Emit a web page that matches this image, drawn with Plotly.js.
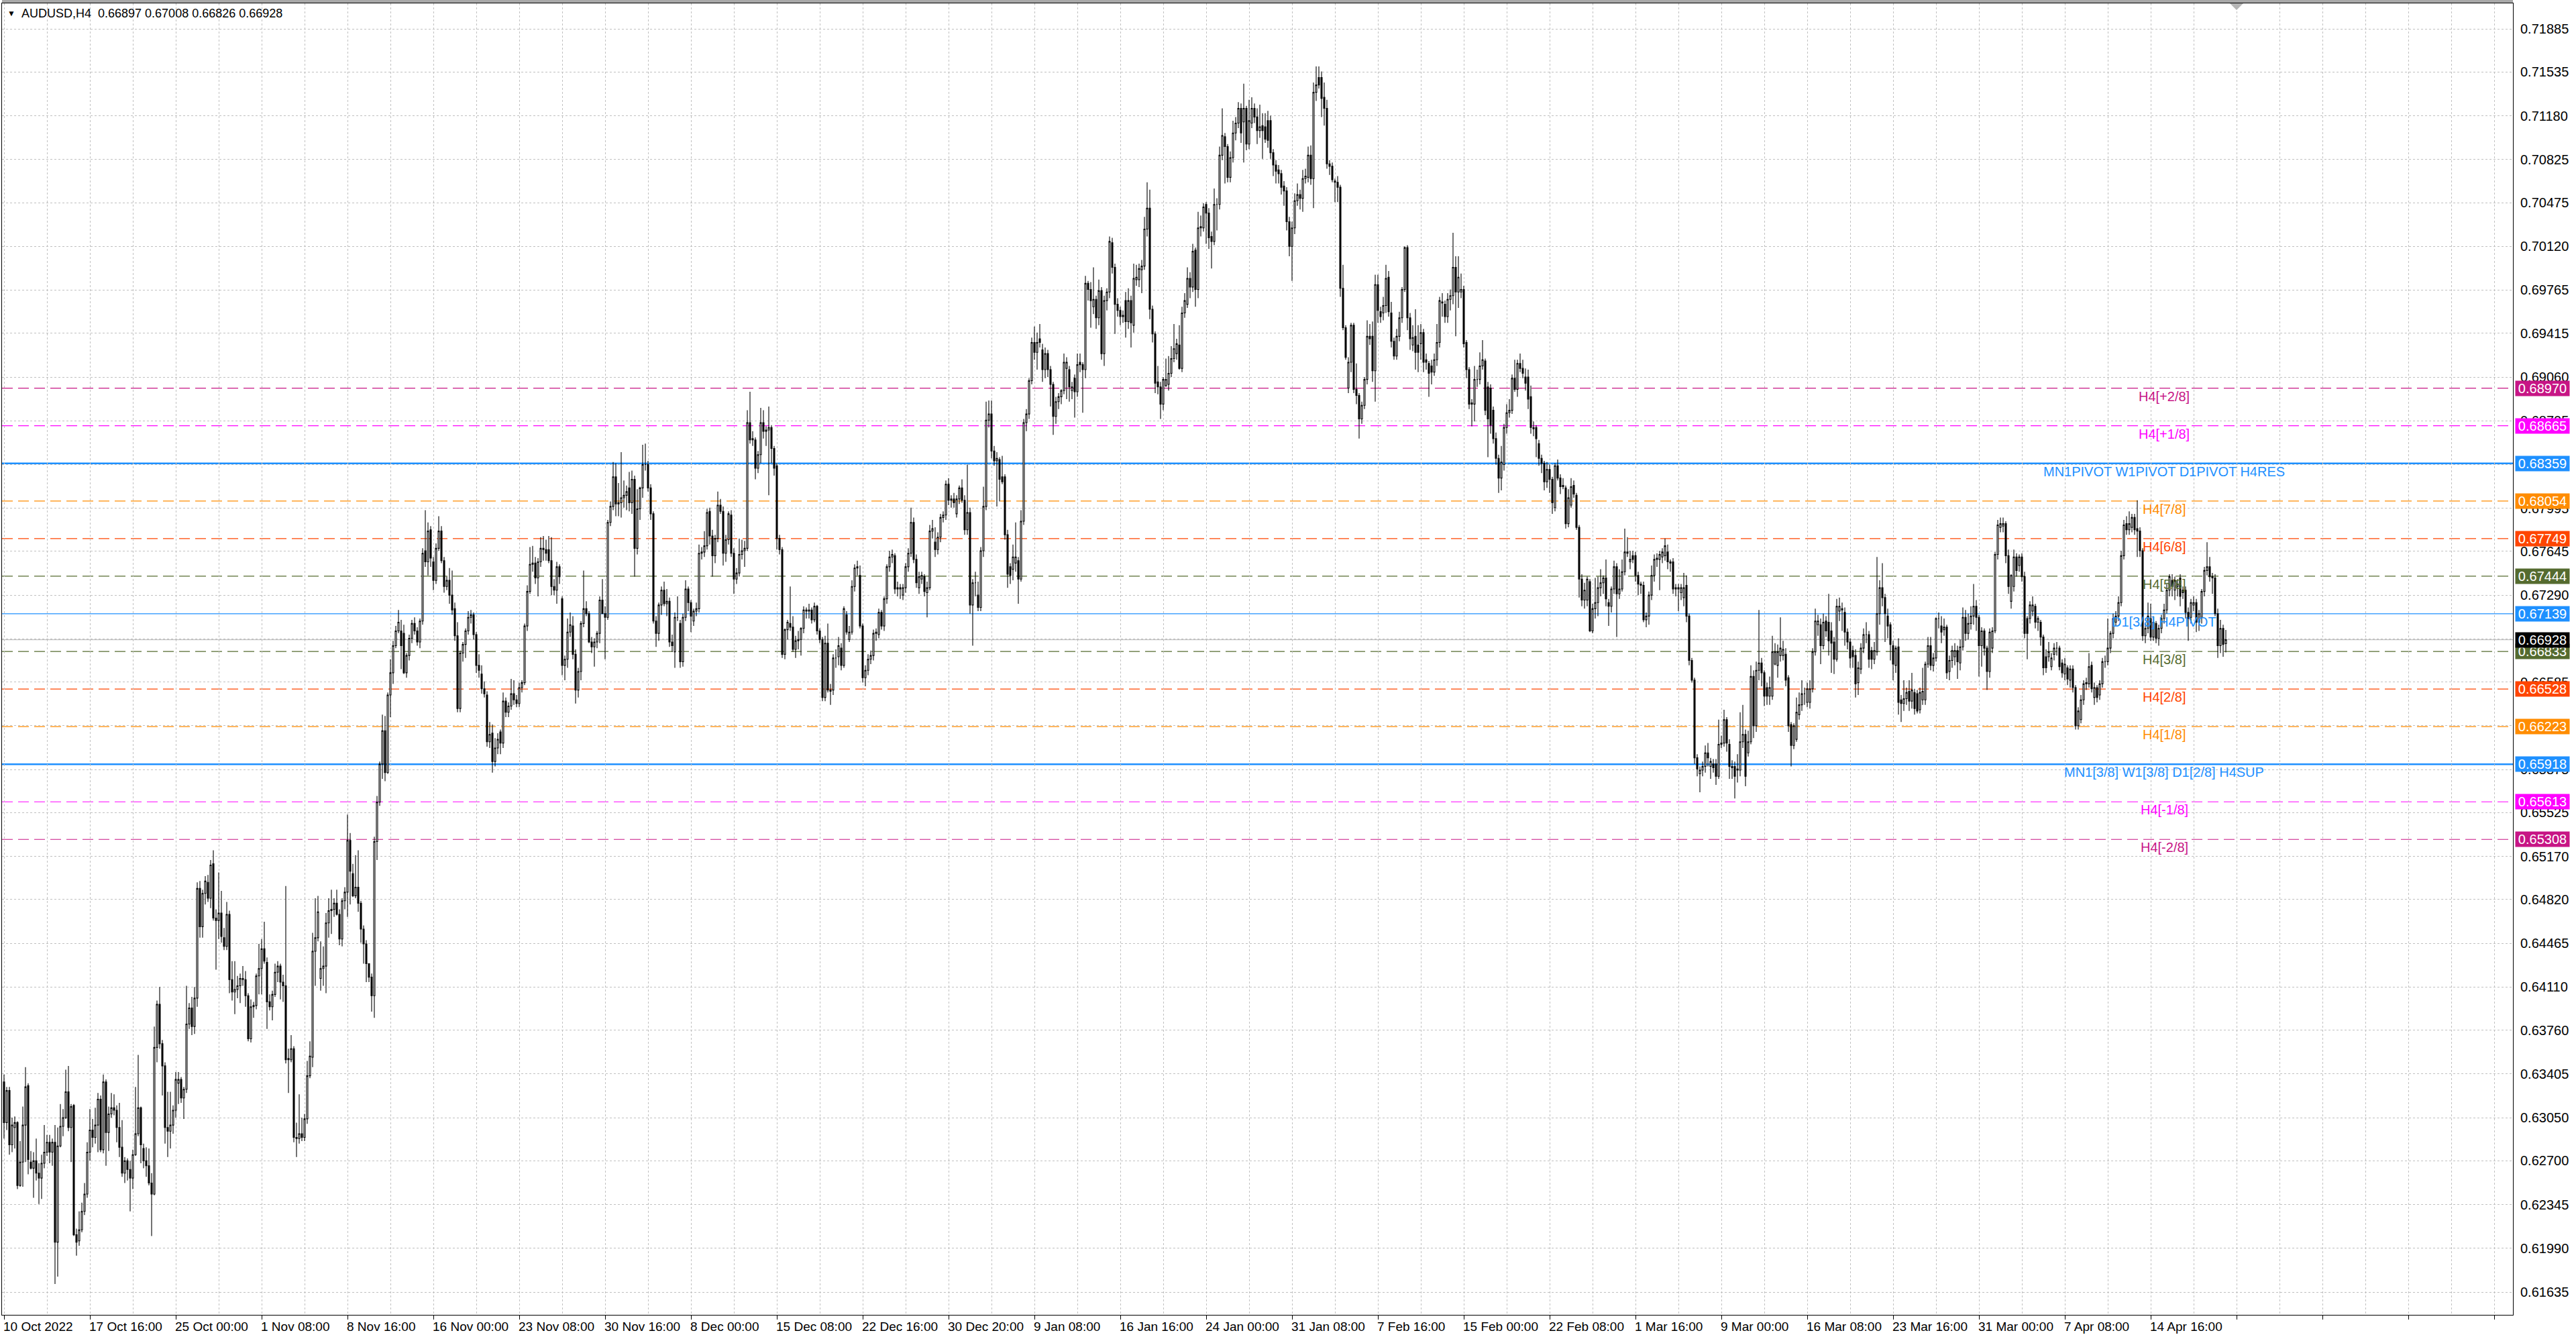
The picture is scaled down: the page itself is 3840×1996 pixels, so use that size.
<!DOCTYPE html>
<html>
<head>
<meta charset="utf-8">
<script src="https://cdn.plot.ly/plotly-3.0.1.min.js"></script>
<style>
    html, body { margin: 0; padding: 0; background: #ffffff; }
    #chart { width: 3840px; height: 1996px; }
</style>
</head>
<body>
<div id="chart"></div>
<script>
// AUDUSD H4 candles, values in pips above BASE (price = BASE + v / 10000)
const BASE = 0.6;

const opens = [
    334,301,327,283,297,301,250,269,299,331,269,264,270,260,256,268,277,285,277,285,
    204,282,298,305,326,297,315,210,205,214,229,243,277,295,289,299,320,279,334,293,
    308,313,311,297,281,260,270,263,256,275,292,313,280,270,266,252,243,362,397,365,
    347,297,294,299,311,333,336,321,328,381,394,379,402,491,460,487,496,483,511,467,
    465,471,451,444,470,417,407,409,412,418,417,404,369,395,396,420,426,442,431,399,
    395,405,423,428,415,412,353,352,361,289,288,292,289,304,339,354,440,451,418,426,
    428,463,473,474,479,470,450,481,488,530,503,485,492,479,458,446,430,419,404,529,
    561,592,619,585,648,666,688,700,700,698,666,680,694,706,700,691,708,765,756,782,
    756,741,767,781,757,736,741,729,718,696,637,682,689,700,711,713,697,672,665,653,
    648,610,617,594,605,618,609,643,634,639,649,644,641,654,658,704,732,754,755,743,
    756,767,766,766,757,736,733,752,726,672,677,699,704,681,652,667,706,718,714,691,
    687,691,698,725,714,711,788,801,825,803,804,808,810,816,804,823,767,799,816,835,
    835,816,795,708,698,721,733,722,724,691,683,711,706,675,711,734,723,708,716,718,
    763,764,769,797,777,761,775,802,797,763,774,794,763,742,747,762,765,767,869,855,
    855,832,843,869,862,863,865,848,834,775,766,681,701,706,703,685,692,693,702,717,
    716,717,709,720,700,693,646,690,652,652,678,679,686,672,713,693,699,736,751,745,
    704,662,668,677,680,698,697,715,704,726,752,760,761,734,735,729,735,752,763,788,
    758,735,742,744,731,735,781,772,766,776,792,794,819,806,807,795,807,816,806,782,
    796,721,739,729,719,765,801,871,876,846,838,839,825,825,778,752,750,755,757,742,
    789,869,876,903,934,926,937,928,912,925,912,900,874,886,890,895,913,912,895,905,
    894,918,916,912,982,977,963,969,954,976,925,968,975,1015,995,965,960,955,968,951,
    968,948,985,985,993,996,1026,1043,961,941,902,898,884,899,900,909,921,925,932,913,
    958,965,986,979,1009,977,1027,1027,1046,1039,1020,1016,1046,1046,1086,1101,1093,1068,1084,1104,
    1112,1124,1113,1124,1095,1112,1124,1117,1106,1110,1109,1114,1114,1088,1078,1074,1071,1061,1057,1032,
    1012,1027,1049,1054,1051,1067,1068,1086,1067,1137,1149,1149,1133,1124,1079,1077,1065,1064,1060,978,
    946,897,918,948,896,891,872,883,904,939,939,911,981,959,958,964,987,958,935,923,
    939,954,977,1011,954,932,939,932,933,942,920,917,915,910,920,934,967,965,955,969,
    972,995,975,975,977,934,912,885,884,904,904,915,919,898,897,879,856,840,824,835,
    865,877,879,905,896,917,913,906,906,890,865,865,852,840,836,821,831,823,800,834,
    824,817,816,787,802,818,810,784,742,725,725,740,700,718,723,735,739,743,723,720,
    734,752,730,734,748,763,756,761,761,745,738,737,709,712,729,745,758,758,760,761,
    764,755,756,734,735,731,727,737,712,676,660,597,584,587,590,601,590,592,592,582,
    608,609,628,608,589,590,587,587,610,616,601,610,663,623,668,674,666,654,647,647,
    673,672,680,680,681,662,624,607,612,632,640,649,642,642,653,683,705,705,688,708,
    707,700,691,677,716,717,715,699,691,684,680,658,669,686,697,697,684,677,683,714,
    735,727,712,705,688,672,687,644,641,645,651,643,650,649,636,644,644,673,688,672,
    678,710,704,701,703,667,676,679,684,674,687,711,698,706,712,720,711,688,700,686,
    667,686,700,762,784,785,787,761,724,736,760,753,760,744,710,710,716,720,707,707,
    695,679,679,671,681,686,686,674,665,670,660,669,654,623,628,644,657,657,672,646,
    654,648,657,675,675,686,698,707,712,723,761,787,782,784,792,783,781,765,696,702,
    710,695,706,694,702,710,717,733,741,733,736,743,733,733,715,711,721,723,707,711,
    732,749,752,744,743,714,688,702,689.7
];

const highs = [
    340,330,330,305,306,302,286,314,346,333,278,277,288,268,275,299,291,291,288,299,
    297,316,312,344,347,316,316,215,229,236,252,285,312,304,313,325,323,340,336,314,
    325,324,315,317,303,273,272,270,279,330,356,314,284,281,280,260,379,400,411,368,
    350,326,326,315,342,342,338,330,412,398,403,411,496,497,490,501,502,514,522,474,
    504,489,459,480,473,432,432,420,422,428,424,406,401,399,422,446,450,464,435,405,
    408,430,432,430,421,493,361,372,363,301,324,305,308,351,367,455,483,485,448,444,
    471,483,490,483,490,474,483,492,551,536,511,518,522,481,461,449,430,422,533,566,
    594,632,631,650,677,692,704,717,709,705,682,697,709,711,703,710,767,798,788,785,
    760,771,793,785,760,744,751,749,723,707,684,691,702,716,717,715,699,681,672,659,
    651,626,624,613,617,620,650,646,642,661,660,648,658,660,706,737,768,769,760,759,
    776,777,774,777,776,742,756,754,728,680,710,715,712,685,670,708,749,724,716,695,
    694,700,728,742,720,790,805,837,836,820,845,822,818,829,830,826,815,817,851,852,
    838,819,797,712,723,736,740,734,727,697,715,728,709,714,741,736,725,718,723,770,
    768,781,799,800,782,778,813,807,801,778,797,798,767,751,775,774,773,879,894,862,
    857,846,881,879,866,882,867,850,836,778,768,702,709,736,712,696,700,703,720,719,
    722,719,723,721,702,695,696,706,657,681,685,695,690,720,716,704,741,754,757,753,
    706,672,681,684,701,702,718,717,728,754,765,766,763,740,738,738,755,767,800,792,
    762,748,748,746,740,786,790,784,780,795,797,822,824,810,812,810,818,823,810,835,
    800,742,748,740,768,817,886,887,887,850,845,841,842,827,782,755,770,788,760,798,
    872,880,905,938,947,942,949,933,930,928,915,902,890,893,896,925,922,915,902,908,
    925,925,918,988,984,983,995,972,985,979,972,978,1020,1019,998,970,963,960,975,978,
    972,998,997,998,1001,1036,1064,1058,964,943,915,902,906,921,923,931,949,937,948,963,
    974,995,991,1014,1011,1040,1037,1047,1048,1043,1024,1059,1051,1093,1124,1104,1095,1089,1114,1117,
    1129,1128,1144,1126,1131,1133,1128,1124,1127,1120,1120,1122,1118,1091,1082,1078,1074,1065,1060,1036,
    1032,1055,1063,1058,1074,1075,1093,1094,1145,1158,1158,1154,1145,1131,1082,1080,1067,1069,1062,997,
    948,922,950,950,917,893,886,906,952,949,951,989,989,963,971,997,992,967,938,945,
    959,979,1012,1013,958,948,961,948,949,945,925,919,920,925,949,971,974,968,974,977,
    1023,1004,1004,990,980,936,914,888,915,912,926,936,921,902,900,882,861,843,850,868,
    884,888,908,920,920,925,920,913,912,899,870,867,855,843,838,837,835,825,836,839,
    827,824,818,815,824,822,812,786,746,739,744,742,722,743,744,750,745,758,726,736,
    757,755,750,758,783,776,765,765,764,748,740,740,715,732,753,762,763,765,767,775,
    770,758,759,738,738,738,747,745,714,678,662,600,590,594,607,609,597,596,596,628,
    615,636,630,612,595,594,600,634,640,620,619,672,668,675,717,678,668,658,663,696,
    690,689,711,692,686,664,626,625,646,650,660,654,658,660,686,718,713,710,714,712,
    730,707,695,726,727,723,719,702,694,688,685,675,690,702,707,700,687,691,760,741,
    755,730,718,707,692,688,694,648,660,654,660,666,653,652,654,670,675,695,695,682,
    711,715,712,710,705,680,688,690,688,693,719,717,714,720,738,725,713,703,702,688,
    702,703,764,790,792,792,789,766,746,766,763,762,763,748,712,724,728,722,712,709,
    697,685,691,682,690,691,688,677,678,672,672,672,656,638,648,660,662,682,675,658,
    656,660,678,680,710,700,714,716,728,765,790,793,797,795,795,806,784,767,706,723,
    722,712,708,705,713,722,738,746,746,744,742,746,736,736,719,726,728,726,717,734,
    752,772,760,747,746,718,709,705,700.8
];

const lows = [
    288,295,275,277,280,247,249,249,269,259,263,240,254,235,239,264,274,268,266,170,
    176,281,290,304,294,269,209,193,201,212,226,240,270,281,284,277,277,276,266,278,
    305,307,285,273,257,252,254,229,247,274,290,268,264,257,250,209,242,350,361,323,
    284,273,280,292,305,316,317,304,325,377,372,373,395,451,451,478,480,475,465,425,
    450,447,441,441,406,400,389,402,398,412,395,367,366,386,393,405,405,430,377,392,
    384,403,415,401,399,349,325,350,285,273,284,286,286,300,337,346,412,448,408,412,
    406,451,454,468,469,445,444,474,468,478,484,483,472,447,430,415,415,391,386,514,
    558,580,578,584,630,657,686,698,669,665,662,676,690,697,688,686,705,752,745,752,
    733,738,765,755,731,733,722,713,692,634,634,675,678,697,706,693,666,662,649,646,
    606,605,585,590,600,600,605,630,630,636,640,638,638,650,656,700,730,748,738,728,
    752,757,757,755,729,729,722,738,664,660,670,695,677,641,646,660,703,712,690,682,
    671,686,690,714,677,709,785,798,793,793,792,800,798,797,795,744,762,790,808,830,
    813,790,706,687,692,713,720,712,687,683,670,708,670,671,708,716,699,704,712,715,
    758,760,766,770,744,755,772,795,753,756,770,760,730,738,744,758,752,765,852,850,
    823,828,836,856,850,810,836,826,766,762,678,677,693,700,683,678,685,680,698,710,
    710,706,707,697,690,643,643,650,640,648,670,672,668,670,697,691,697,732,745,702,
    658,655,664,673,676,692,694,701,700,722,748,755,730,728,726,725,731,748,760,755,
    735,730,738,728,711,733,775,760,762,772,788,790,802,800,800,792,803,804,778,778,
    714,688,728,716,716,760,798,865,840,834,801,805,819,774,735,738,741,748,722,740,
    786,862,872,900,920,912,930,902,905,906,882,859,868,880,884,892,888,886,888,873,
    890,910,877,905,968,946,957,945,948,920,915,960,970,990,941,955,948,950,938,945,
    930,942,980,979,974,993,1020,953,934,893,892,872,879,898,895,906,918,920,912,910,
    954,962,970,975,963,970,1020,1024,1014,1010,994,1013,1025,1042,1082,1063,1064,1064,1080,1098,
    1108,1096,1080,1090,1091,1108,1112,1095,1100,1083,1096,1092,1083,1069,1063,1063,1054,1045,1025,1004,
    984,1022,1045,1042,1040,1063,1064,1062,1043,1130,1140,1117,1110,1075,1070,1064,1048,1048,971,944,
    920,893,910,893,884,856,868,880,900,932,902,886,950,950,952,958,955,930,920,920,
    935,950,975,944,928,927,912,910,920,910,912,890,900,907,915,930,955,950,950,960,
    965,939,962,970,930,905,880,866,870,898,900,912,875,841,860,852,835,812,814,830,
    860,873,876,894,890,910,905,895,880,860,858,841,834,828,814,816,812,795,797,822,
    811,815,783,784,800,808,782,727,720,718,720,699,698,710,712,728,730,720,704,715,
    730,695,726,732,745,760,750,755,740,729,730,707,703,705,725,740,752,733,755,757,
    750,748,730,728,716,725,720,707,672,658,592,582,569,582,585,590,580,585,575,580,
    605,606,602,580,580,564,577,582,605,574,598,608,613,618,660,655,639,640,640,644,
    672,662,675,676,655,618,590,604,610,628,635,640,638,637,650,680,696,673,685,695,
    680,666,665,675,708,700,688,685,670,670,646,648,665,682,690,670,669,673,680,705,
    720,691,694,676,660,666,632,626,635,640,635,637,632,633,633,640,640,670,668,667,
    675,702,690,696,661,660,670,672,661,668,684,692,693,701,705,700,663,671,680,652,
    662,682,698,758,780,780,755,730,718,732,744,748,740,694,677,706,712,702,700,688,
    664,666,675,668,676,680,668,662,660,656,654,650,620,620,625,640,652,654,650,640,
    642,644,654,670,672,682,694,704,708,720,758,778,778,780,778,760,760,692,690,698,
    692,692,690,688,698,706,714,728,728,725,728,720,726,710,692,706,716,699,700,706,
    728,745,740,730,712,678,682,679,682.6
];

const closes = [
    301,327,283,299,301,250,269,299,330,271,264,270,260,256,268,277,285,277,285,204,
    282,298,305,326,297,314,210,204,214,229,243,277,295,289,299,320,279,334,293,308,
    313,311,297,281,260,270,263,256,275,292,313,283,270,266,252,243,362,397,365,347,
    297,294,299,311,336,336,321,328,381,394,379,402,491,460,487,497,483,510,467,465,
    471,452,444,470,417,407,409,412,418,417,404,369,395,396,420,426,442,432,399,395,
    405,423,428,415,412,352,352,361,289,288,292,289,304,339,355,440,451,472,426,428,
    463,473,474,479,470,450,481,488,530,505,485,492,479,458,446,430,419,404,529,561,
    592,619,585,648,666,688,700,707,688,666,680,694,706,700,691,708,763,756,781,759,
    741,767,781,757,736,741,729,717,696,637,682,689,700,711,713,697,672,668,653,649,
    610,616,594,605,612,609,643,634,639,649,644,641,654,658,704,732,754,755,743,756,
    767,766,763,757,736,733,752,744,672,677,699,705,681,652,667,706,718,714,691,687,
    691,698,725,714,711,788,801,825,803,804,808,810,813,804,823,767,799,816,835,835,
    816,795,708,698,721,733,722,724,691,688,711,711,675,711,734,723,712,716,718,763,
    764,769,796,777,761,775,802,797,763,774,795,763,742,747,762,765,767,869,855,856,
    832,843,869,862,863,865,848,832,775,766,681,701,707,703,685,692,693,702,717,716,
    717,709,720,700,693,646,690,652,651,678,678,688,672,718,699,699,736,751,752,704,
    662,668,677,680,698,699,715,704,726,752,760,762,734,735,734,735,752,763,788,758,
    739,744,745,732,735,781,783,766,776,792,794,819,806,807,804,807,816,806,782,796,
    721,739,739,719,765,801,871,876,846,838,840,823,821,778,746,745,760,760,742,789,
    869,876,903,934,926,934,934,912,925,912,900,874,886,890,895,918,918,898,898,894,
    916,916,912,982,977,968,969,954,976,925,968,975,1016,995,965,960,955,956,951,968,
    950,986,987,994,996,1026,1043,961,941,901,898,884,904,904,909,921,929,933,913,958,
    968,986,979,1008,977,1027,1028,1044,1039,1019,1016,1046,1046,1086,1102,1093,1068,1084,1104,1112,
    1124,1104,1124,1095,1114,1124,1117,1106,1109,1106,1099,1098,1088,1078,1073,1071,1060,1057,1032,1012,
    1027,1049,1054,1051,1067,1069,1086,1067,1137,1143,1143,1132,1124,1079,1077,1066,1064,1060,978,946,
    922,918,948,896,891,872,883,904,939,937,911,981,960,955,964,986,959,935,923,939,
    954,977,1011,954,937,938,926,926,942,918,918,909,910,920,934,968,966,955,969,972,
    995,975,987,977,933,912,884,884,904,904,915,920,879,872,867,856,840,824,837,865,
    877,879,905,896,917,913,909,901,888,865,864,856,840,836,821,831,823,804,834,824,
    817,818,787,808,817,811,784,742,725,733,742,700,718,723,735,739,743,726,720,734,
    752,730,734,748,764,764,758,758,745,738,737,709,712,729,745,758,759,762,764,769,
    756,756,734,735,734,735,735,712,676,660,597,588,587,590,601,597,594,589,582,608,
    609,628,609,590,590,582,588,610,616,582,610,663,623,668,674,666,647,647,654,683,
    683,683,686,685,660,623,607,623,634,640,649,649,653,653,683,708,708,688,707,700,
    692,690,677,720,720,718,699,691,678,679,657,670,686,697,697,677,677,684,714,735,
    727,714,704,689,673,686,642,641,645,650,643,652,637,635,650,651,673,688,672,678,
    710,710,699,703,666,676,684,684,675,687,711,698,706,712,720,711,688,700,686,667,
    699,700,762,786,787,787,761,736,745,760,749,760,744,698,698,721,721,707,710,695,
    670,670,683,678,686,686,671,666,673,661,669,654,623,635,644,657,658,671,653,654,
    646,657,675,675,686,698,710,712,723,761,786,782,787,792,782,781,765,696,702,712,
    695,707,694,702,710,717,733,744,736,741,738,728,731,715,710,723,723,707,714,732,
    749,752,744,743,714,688,702,689,692.8
];

const timeLabels = [
    '10 Oct 2022', '17 Oct 16:00', '25 Oct 00:00', '1 Nov 08:00', '8 Nov 16:00',
    '16 Nov 00:00', '23 Nov 08:00', '30 Nov 16:00', '8 Dec 00:00', '15 Dec 08:00',
    '22 Dec 16:00', '30 Dec 20:00', '9 Jan 08:00', '16 Jan 16:00', '24 Jan 00:00',
    '31 Jan 08:00', '7 Feb 16:00', '15 Feb 00:00', '22 Feb 08:00', '1 Mar 16:00',
    '9 Mar 00:00', '16 Mar 08:00', '23 Mar 16:00', '31 Mar 00:00', '7 Apr 08:00',
    '14 Apr 16:00'
];

const priceTicks = [
    0.71885, 0.71535, 0.71180, 0.70825, 0.70475, 0.70120, 0.69765, 0.69415, 0.69060, 0.68705,
    0.68350, 0.67995, 0.67645, 0.67290, 0.66935, 0.66585, 0.66230, 0.65875, 0.65525, 0.65170,
    0.64820, 0.64465, 0.64110, 0.63760, 0.63405, 0.63050, 0.62700, 0.62345, 0.61990, 0.61635
];

const levelNames = [
    'H4[+2/8]', 'H4[+1/8]', 'MN1PIVOT W1PIVOT D1PIVOT H4RES', 'H4[7/8]', 'H4[6/8]',
    'H4[5/8]', 'D1[3/8] H4PIVOT', 'H4[3/8]', 'H4[2/8]', 'H4[1/8]',
    'MN1[3/8] W1[3/8] D1[2/8] H4SUP', 'H4[-1/8]', 'H4[-2/8]'
];
const levelPrices = [
    0.68970, 0.68665, 0.68359, 0.68054, 0.67749,
    0.67444, 0.67139, 0.66833, 0.66528, 0.66223,
    0.65918, 0.65613, 0.65308
];

const symbolName = 'AUDUSD,H4';

// styling
const FONT = 'Liberation Sans, Arial, sans-serif';
const DASH = '16px,8px';
const levelStyles = [
    {color: '#C71585', dash: DASH, width: 1.2},
    {color: '#FF00FF', dash: DASH, width: 1.2},
    {color: '#1E90FF', dash: 'solid', width: 2.6},
    {color: '#FF8C00', dash: DASH, width: 1.2},
    {color: '#FF4500', dash: DASH, width: 1.2},
    {color: '#556B2F', dash: DASH, width: 1.2},
    {color: '#1E90FF', dash: 'solid', width: 1.3},
    {color: '#556B2F', dash: DASH, width: 1.2},
    {color: '#FF4500', dash: DASH, width: 1.2},
    {color: '#FF8C00', dash: DASH, width: 1.2},
    {color: '#1E90FF', dash: 'solid', width: 2.6},
    {color: '#FF00FF', dash: DASH, width: 1.2},
    {color: '#C71585', dash: DASH, width: 1.2}
];
const BARS_PER_LABEL = 32;
const LABEL_BAR = 805;   // bar where the level captions are centred
const SHIFT_BAR = 832;   // chart shift marker on the top border

const toPrice = v => +(BASE + v / 10000).toFixed(5);
const fmt = p => p.toFixed(5);

class CandleChart {
    constructor(divID) {
        this.divID = divID;

        const n = Math.min(opens.length, highs.length, lows.length, closes.length);
        const x = [], o = [], h = [], l = [], c = [];
        for (let i = 0; i < n; i++) {
            x.push(i);
            o.push(toPrice(opens[i]));
            c.push(toPrice(closes[i]));
            h.push(toPrice(Math.max(highs[i], opens[i], closes[i])));
            l.push(toPrice(Math.min(lows[i], opens[i], closes[i])));
        }
        this.last = {o: o[n - 1], h: h[n - 1], l: l[n - 1], c: c[n - 1]};

        this.data = [{
            type: 'candlestick',
            x: x, open: o, high: h, low: l, close: c,
            increasing: {line: {color: '#000000', width: 1.1}, fillcolor: '#ffffff'},
            decreasing: {line: {color: '#000000', width: 1.1}, fillcolor: '#000000'},
            whiskerwidth: 0,
            hoverinfo: 'skip',
            showlegend: false
        }];

        const plotTop = 5, plotBottom = 36;
        const plotH = 1996 - plotTop - plotBottom;

        const shapes = levelPrices.map((p, i) => ({
            type: 'line', xref: 'paper', x0: 0, x1: 1, yref: 'y', y0: p, y1: p,
            layer: 'between',
            line: {color: levelStyles[i].color, width: levelStyles[i].width, dash: levelStyles[i].dash}
        }));
        // bid line
        shapes.push({
            type: 'line', xref: 'paper', x0: 0, x1: 1, yref: 'y', y0: this.last.c, y1: this.last.c,
            layer: 'between', line: {color: '#b4b4b4', width: 1}
        });
        // window chrome above the frame
        shapes.push({
            type: 'rect', xref: 'paper', x0: 0, x1: 1, yref: 'paper',
            y0: 1 + 1 / plotH, y1: 1 + plotTop / plotH,
            fillcolor: '#a8a8a8', line: {width: 0}, layer: 'above'
        });
        // chart shift marker
        const tri = 10 / plotH;
        shapes.push({
            type: 'path', xref: 'x', yref: 'paper', layer: 'above',
            path: `M ${SHIFT_BAR - 2.5},1 L ${SHIFT_BAR + 2.5},1 L ${SHIFT_BAR},${1 - tri} Z`,
            fillcolor: '#b4b4b4', line: {width: 0}
        });

        const annotations = [];
        levelPrices.forEach((p, i) => {
            annotations.push({
                xref: 'x', x: LABEL_BAR, yref: 'y', y: p,
                xanchor: 'center', yanchor: 'top', yshift: 1,
                text: levelNames[i], showarrow: false,
                font: {family: FONT, size: 20, color: levelStyles[i].color}
            });
        });

        // price tags on the right scale
        const tags = levelPrices.map((p, i) => ({p: p, color: levelStyles[i].color}));
        tags.push({p: this.last.c, color: '#000000'});
        tags.forEach(t => {
            annotations.push({
                xref: 'paper', x: 1, xanchor: 'left', xshift: 3,
                yref: 'y', y: t.p, yanchor: 'middle',
                text: fmt(t.p), showarrow: false,
                bgcolor: t.color, width: 80, height: 22, borderpad: 0, align: 'center',
                font: {family: FONT, size: 20, color: '#ffffff'}
            });
        });

        // time labels, left aligned at their bar
        timeLabels.forEach((t, i) => {
            annotations.push({
                xref: 'x', x: i * BARS_PER_LABEL, yref: 'paper', y: 0,
                xanchor: 'left', yanchor: 'top', xshift: -3, yshift: -5,
                text: t, showarrow: false,
                font: {family: FONT, size: 19, color: '#000000'}
            });
        });

        // header
        annotations.push({
            xref: 'paper', x: 0, xanchor: 'left', xshift: 6,
            yref: 'paper', y: 1, yanchor: 'top', yshift: -6,
            text: '\u25BC', showarrow: false,
            font: {family: FONT, size: 12, color: '#000000'}
        });
        annotations.push({
            xref: 'paper', x: 0, xanchor: 'left', xshift: 27,
            yref: 'paper', y: 1, yanchor: 'top', yshift: -3,
            text: symbolName + '\u00a0\u00a0' + [this.last.o, this.last.h, this.last.l, this.last.c].map(fmt).join(' '),
            showarrow: false,
            font: {family: FONT, size: 18, color: '#000000'}
        });

        const plotLeft = 3, plotRight = 94;
        const barPx = 4, firstBarPx = 6;
        const x0 = -(firstBarPx - plotLeft) / barPx;
        const x1 = x0 + (3840 - plotLeft - plotRight) / barPx;

        this.layout = {
            width: 3840,
            height: 1996,
            margin: {l: plotLeft, r: plotRight, t: plotTop, b: plotBottom},
            paper_bgcolor: '#ffffff',
            plot_bgcolor: '#ffffff',
            font: {family: FONT, size: 20, color: '#000000'},
            showlegend: false,
            xaxis: {
                type: 'linear',
                range: [x0, x1],
                rangeslider: {visible: false},
                tickmode: 'linear', tick0: 0, dtick: BARS_PER_LABEL,
                showticklabels: false,
                ticks: 'outside', ticklen: 6, tickcolor: '#000000', tickwidth: 1,
                showgrid: true, gridcolor: '#c0c0c0', gridwidth: 1, griddash: '3px,3px',
                minor: {tickmode: 'linear', tick0: 0, dtick: BARS_PER_LABEL / 2, showgrid: true,
                        gridcolor: '#c0c0c0', gridwidth: 1, griddash: '3px,3px', ticks: ''},
                showline: true, linecolor: '#000000', linewidth: 1, mirror: true,
                zeroline: false, fixedrange: true
            },
            yaxis: {
                side: 'right',
                range: [0.61450, 0.72092],
                tickmode: 'array',
                tickvals: priceTicks,
                ticktext: priceTicks.map(fmt),
                tickfont: {family: FONT, size: 20, color: '#000000'},
                ticks: '', ticklabelstandoff: 6,
                showgrid: true, gridcolor: '#c0c0c0', gridwidth: 1, griddash: '3px,3px',
                showline: true, linecolor: '#000000', linewidth: 1, mirror: true,
                zeroline: false, fixedrange: true
            },
            shapes: shapes,
            annotations: annotations
        };

        this.config = {
            responsive: false,
            editable: false,
            displayModeBar: false,
            staticPlot: true
        };
    }

    plot() {
        Plotly.newPlot(
            this.divID,
            this.data,
            this.layout,
            this.config
        );
    }
}

new CandleChart('chart').plot();
</script>
</body>
</html>
